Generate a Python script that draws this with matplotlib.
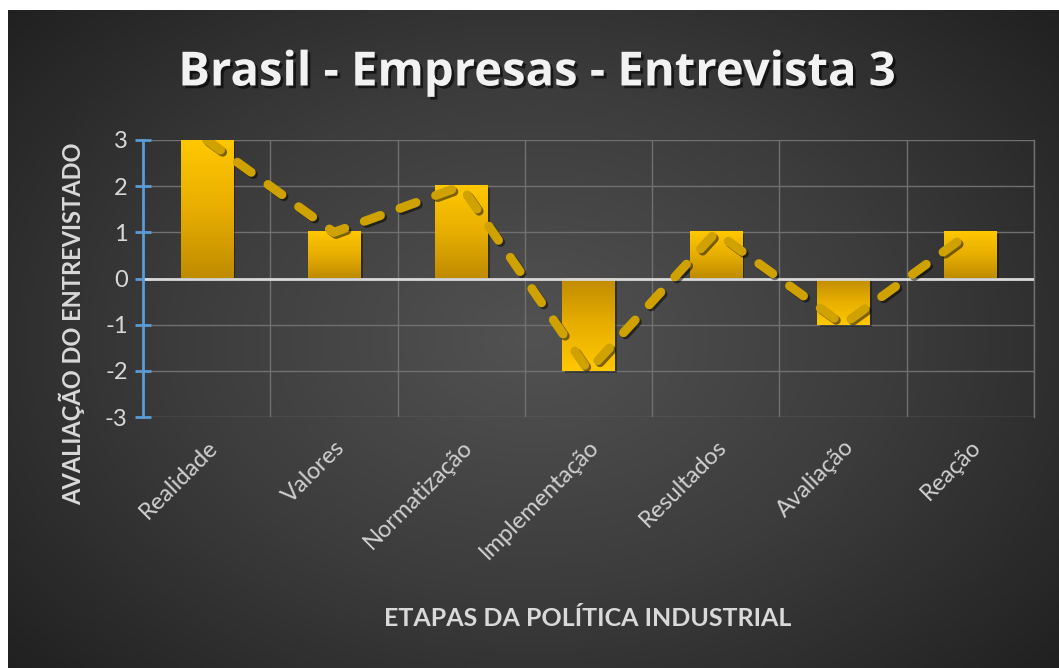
import numpy as np
import matplotlib
matplotlib.use("Agg")
import matplotlib.pyplot as plt
import matplotlib.patheffects as pe
from matplotlib.colors import LinearSegmentedColormap

# dados da entrevista
etapas = ["Realidade", "Valores", "Normatização", "Implementação",
          "Resultados", "Avaliação", "Reação"]
avaliacao = [3, 1, 2, -2, 1, -1, 1]

titulo = "Brasil - Empresas - Entrevista 3"
rotulo_x = "ETAPAS DA POLÍTICA INDUSTRIAL"
rotulo_y = "AVALIAÇÃO DO ENTREVISTADO"

plt.rcParams['font.family'] = ['Lato', 'DejaVu Sans']
plt.rcParams['axes.unicode_minus'] = False

fig = plt.figure(figsize=(10.59, 6.68), dpi=100, facecolor="white")

# fundo escuro com gradiente radial
bg = fig.add_axes([8 / 1059, 0, 1 - 8 / 1059, 1 - 10 / 668])
yy, xx = np.mgrid[0:1:300j, 0:1:500j]
r = np.sqrt(((xx - 0.5) / 0.75) ** 2 + ((yy - 0.5) / 0.85) ** 2)
fundo = LinearSegmentedColormap.from_list("fundo", ["#525252", "#3c3c3c", "#202020"])
bg.imshow(r, cmap=fundo, aspect="auto", extent=[0, 1, 0, 1], vmin=0, vmax=0.9)
bg.axis("off")

ax = fig.add_axes([143 / 1059, 1 - 417 / 668, 891 / 1059, 277 / 668])
ax.set_facecolor("none")
x = np.arange(len(etapas))
ax.set_xlim(-0.5, len(etapas) - 0.5)
ax.set_ylim(-3, 3)

# grade
for yv in range(-3, 4):
    ax.axhline(yv, color="#707070", lw=1, zorder=1)
for xv in np.arange(0.5, len(etapas), 1):
    ax.axvline(xv, color="#707070", lw=1, zorder=1)

# barras com gradiente
largura = 0.41
ouro = LinearSegmentedColormap.from_list("ouro", ["#c08c00", "#e8ae00", "#ffc800"])
grad = np.linspace(0, 1, 100).reshape(-1, 1)
for xi, v in zip(x, avaliacao):
    sombra = plt.Rectangle((xi - largura / 2 + 0.02, min(0, v) - 0.04), largura, abs(v),
                           color="black", alpha=0.35, zorder=2, lw=0)
    ax.add_patch(sombra)
    img = grad if v > 0 else grad[::-1]
    ax.imshow(img, cmap=ouro, aspect="auto", origin="lower",
              extent=[xi - largura / 2, xi + largura / 2, min(0, v), max(0, v)],
              zorder=3)

ax.axhline(0, color="#d9d9d9", lw=2, zorder=4)

# linha tracejada
ax.plot(x, avaliacao, color="#cfa200", lw=6.5, dashes=(1.9, 2.3),
        solid_capstyle="round", dash_capstyle="round", zorder=5,
        path_effects=[pe.SimpleLineShadow(offset=(1.5, -1.5), shadow_color="black", alpha=0.5),
                      pe.Normal()])

# eixos
for s in ["top", "bottom"]:
    ax.spines[s].set_visible(False)
ax.spines["right"].set_color("#707070")
ax.spines["right"].set_linewidth(1)
ax.spines["left"].set_color("#5b9bd5")
ax.spines["left"].set_linewidth(2)
ax.spines["left"].set_zorder(6)
ax.set_yticks(range(-3, 4))
ax.tick_params(axis="y", direction="inout", length=12, width=2, color="#5b9bd5",
               labelcolor="#d9d9d9", labelsize=17, pad=5)
ax.set_xticks(x)
ax.set_xticklabels(etapas, rotation=45, ha="right", va="top", rotation_mode="anchor",
                   color="#d0d0d0", fontsize=17)
ax.tick_params(axis="x", length=0, pad=14)

fig.text(537 / 1059, 1 - 73 / 668, titulo, ha="center", va="center", color="#f2f2f2",
         fontsize=34, fontweight="bold", family=["Open Sans", "DejaVu Sans"],
         path_effects=[pe.withSimplePatchShadow(offset=(2, -2), shadow_rgbFace="black", alpha=0.6)])
fig.text(588 / 1059, 1 - 618 / 668, rotulo_x, ha="center", va="center", color="#d9d9d9",
         fontsize=18, fontweight="bold")
fig.text(72 / 1059, 1 - 324 / 668, rotulo_y, ha="center", va="center", rotation=90,
         color="#d9d9d9", fontsize=17, fontweight="bold")

fig.savefig("out.png", dpi=100, facecolor="white")
